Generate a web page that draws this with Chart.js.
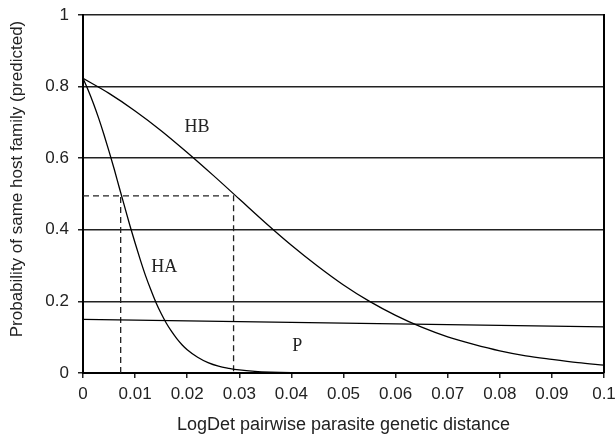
<!DOCTYPE html>
<html>
<head>
<meta charset="utf-8">
<script src="https://cdn.jsdelivr.net/npm/chart.js@4"></script>
<style>
  html, body { margin: 0; padding: 0; background: #fff; }
</style>
</head>
<body>
<canvas id="chart" width="616" height="436"></canvas>
<script>
// ========== DONNÉES ==========
const haX = [0, 0.001, 0.002, 0.003, 0.004, 0.005, 0.006, 0.007, 0.008, 0.009, 0.010,
  0.011, 0.012, 0.013, 0.014, 0.015, 0.016, 0.017, 0.018, 0.019, 0.020,
  0.022, 0.024, 0.026, 0.028, 0.030, 0.033, 0.036, 0.040, 0.045, 0.050, 0.060, 0.080, 0.100];
const haY = [0.823, 0.790, 0.753, 0.712, 0.667, 0.619, 0.569, 0.516, 0.464, 0.412, 0.363,
  0.316, 0.272, 0.233, 0.197, 0.166, 0.139, 0.116, 0.096, 0.079, 0.065,
  0.044, 0.029, 0.019, 0.013, 0.0085, 0.0045, 0.0024, 0.001, 0.0005, 0.0002, 0, 0, 0];

const hbX = [0, 0.005, 0.010, 0.015, 0.020, 0.025, 0.030, 0.035, 0.040, 0.045, 0.050,
  0.055, 0.060, 0.065, 0.070, 0.075, 0.080, 0.085, 0.090, 0.095, 0.100];
const hbY = [0.823, 0.781, 0.732, 0.677, 0.616, 0.552, 0.486, 0.420, 0.357, 0.299, 0.246,
  0.200, 0.161, 0.128, 0.101, 0.080, 0.062, 0.048, 0.038, 0.029, 0.022];

const pX = [0, 0.05, 0.1];
const pY = [0.150, 0.1395, 0.129];

// seuil à 0.5 et distances correspondantes
const cutoffY = 0.495;
const haCutX = 0.00723;
const hbCutX = 0.0289;

const curveNames = ["HB", "HA", "P"];
const curveNameX = [0.0219, 0.0156, 0.0411];
const curveNameY = [0.687, 0.295, 0.0755];

const xTitle = "LogDet pairwise parasite genetic distance";
const yTitle = "Probability of same host family (predicted)";

// ========== UTILITAIRES ==========
const SANS = "'Liberation Sans', Arial, sans-serif";
const SERIF = "'Liberation Serif', 'Times New Roman', serif";

function toPoints(xs, ys) {
  return xs.map((x, i) => ({ x: x, y: ys[i] }));
}

function curve(xs, ys) {
  return {
    data: toPoints(xs, ys),
    borderColor: "#000",
    borderWidth: 1.3,
    pointRadius: 0,
    showLine: true,
    cubicInterpolationMode: "monotone",
  };
}

function dashed(points) {
  return {
    data: points,
    borderColor: "#222",
    borderWidth: 1.3,
    borderDash: [6, 4],
    pointRadius: 0,
    showLine: true,
  };
}

// cadre droit, titre vertical et étiquettes des courbes
const extras = {
  id: "extras",
  afterDraw(chart) {
    const { ctx, chartArea, scales } = chart;
    ctx.save();
    ctx.strokeStyle = "#000";
    ctx.lineWidth = 2;
    ctx.beginPath();
    ctx.moveTo(chartArea.right, chartArea.top - 1);
    ctx.lineTo(chartArea.right, chartArea.bottom);
    ctx.stroke();

    ctx.fillStyle = "#222";
    ctx.font = "18px " + SERIF;
    ctx.textAlign = "center";
    ctx.textBaseline = "middle";
    curveNames.forEach((name, i) => {
      ctx.fillText(name, scales.x.getPixelForValue(curveNameX[i]), scales.y.getPixelForValue(curveNameY[i]));
    });

    ctx.font = "17px " + SANS;
    ctx.translate(17, 179);
    ctx.rotate(-Math.PI / 2);
    ctx.fillText(yTitle, 0, 0);
    ctx.restore();
  },
};

// ========== GRAPHIQUE ==========
new Chart(document.getElementById("chart"), {
  type: "scatter",
  data: {
    datasets: [
      curve(hbX, hbY),
      curve(haX, haY),
      curve(pX, pY),
      dashed([{ x: haCutX, y: 0 }, { x: haCutX, y: cutoffY }]),
      dashed([{ x: 0, y: cutoffY }, { x: hbCutX, y: cutoffY }, { x: hbCutX, y: 0 }]),
    ],
  },
  options: {
    responsive: false,
    animation: false,
    layout: { padding: { left: 0, right: 12, top: 15, bottom: 0 } },
    plugins: { legend: { display: false }, tooltip: { enabled: false } },
    scales: {
      x: {
        type: "linear",
        min: 0,
        max: 0.1,
        afterFit: (s) => { s.height = 63; s.paddingLeft = 0; s.paddingRight = 0; },
        ticks: {
          stepSize: 0.01,
          padding: 6,
          color: "#222",
          font: { family: SANS, size: 17 },
          callback: (v) => String(Number(v.toFixed(2))),
        },
        grid: { drawOnChartArea: false, drawTicks: true, tickLength: 5, color: "#222", lineWidth: 1.5 },
        border: { display: true, color: "#000", width: 2 },
        title: { display: true, text: xTitle, color: "#222", font: { family: SANS, size: 18 }, padding: 0 },
      },
      y: {
        min: 0,
        max: 1,
        afterFit: (s) => { s.width = 83; s.paddingTop = 0; s.paddingBottom = 0; },
        ticks: {
          stepSize: 0.2,
          padding: 9,
          color: "#222",
          font: { family: SANS, size: 17 },
          callback: (v) => String(Number(v.toFixed(1))),
        },
        grid: { color: "#222", lineWidth: 1.5, tickLength: 5 },
        border: { display: true, color: "#000", width: 2 },
      },
    },
  },
  plugins: [extras],
});
</script>
</body>
</html>
